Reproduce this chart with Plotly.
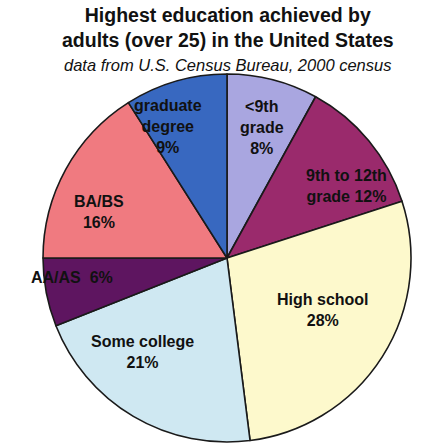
import plotly.graph_objects as go

labels = ["<9th grade", "9th to 12th grade", "High school", "Some college", "AA/AS", "BA/BS", "graduate degree"]
values = [8, 12, 28, 21, 6, 16, 9]
# label text as it is broken into lines on the chart
label_lines = ["&lt;9th<br>grade<br>", "9th to 12th<br>grade ", "High school<br>", "Some college<br>",
               "AA/AS  ", "BA/BS<br>", "graduate<br>degree<br>"]
colors = ["#a9a6e0", "#9a2a6c", "#fdf9cc", "#cfe8f2", "#5e1560", "#f07a80", "#3868c0"]

W, H = 432, 444
cx, cy, r = 227, 258, 184

# layout: label anchor points in pixels (centre of each label block)
label_pos = [(262, 128), (346, 186), (323, 310), (142, 352), (72, 277), (99, 212), (168, 126)]

fig = go.Figure(go.Pie(
    labels=labels, values=values,
    sort=False, direction="clockwise", rotation=0,
    marker=dict(colors=colors, line=dict(color="#1a1a1a", width=1.6)),
    textinfo="none",
    hoverinfo="label+percent",
    domain=dict(x=[(cx - r) / W, (cx + r) / W], y=[(H - cy - r) / H, (H - cy + r) / H]),
    showlegend=False,
))

annotations = [
    dict(text="<b>Highest education achieved by<br>adults (over 25) in the United States</b>",
         x=0.527, y=1 - 2 / H, xref="paper", yref="paper", xanchor="center", yanchor="top",
         showarrow=False, font=dict(family="Liberation Sans", size=19.5, color="#111111")),
    dict(text="<i>data from U.S. Census Bureau, 2000 census</i>",
         x=0.527, y=1 - 54 / H, xref="paper", yref="paper", xanchor="center", yanchor="top",
         showarrow=False, font=dict(family="Liberation Sans", size=16.5, color="#111111")),
]
for txt, v, (px, py) in zip(label_lines, values, label_pos):
    annotations.append(dict(
        text="<b>" + txt + f"{v}%</b>",
        x=px / W, y=1 - py / H, xref="paper", yref="paper",
        xanchor="center", yanchor="middle", showarrow=False, align="center",
        font=dict(family="Liberation Sans", size=16, color="#111111"),
    ))

fig.update_layout(
    width=W, height=H, margin=dict(l=0, r=0, t=0, b=0),
    paper_bgcolor="white", plot_bgcolor="white",
    annotations=annotations,
)

fig.write_html("out.html", config={"displayModeBar": False},
               post_script="document.body.style.margin='0px';")
